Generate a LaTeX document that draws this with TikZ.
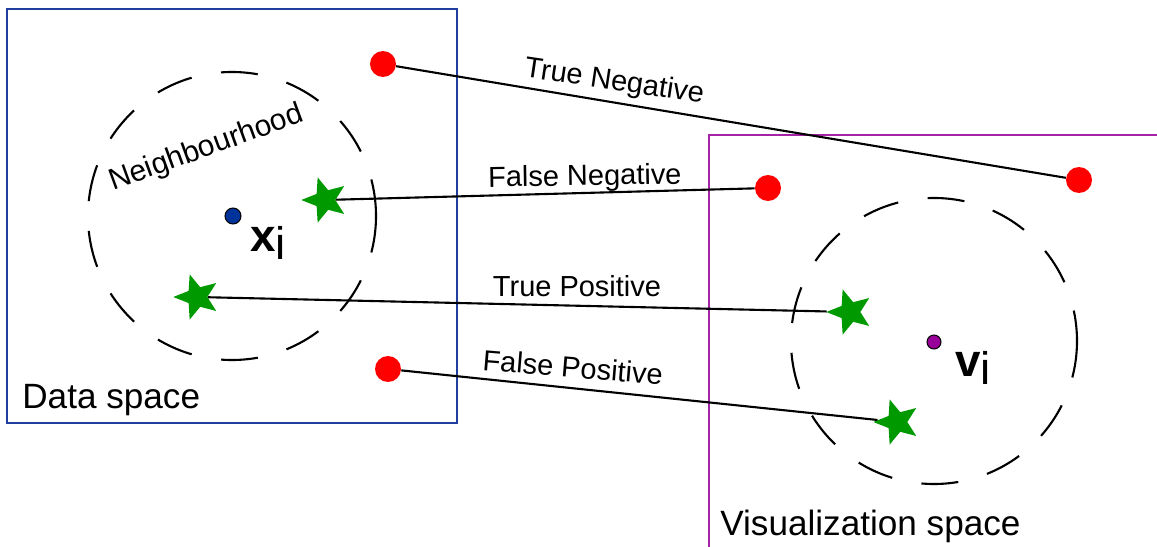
\documentclass[tikz,border=0pt]{standalone}
\usepackage{fontspec}
\setmainfont{Liberation Sans}
\usetikzlibrary{shapes.geometric}
\definecolor{dataBlue}{RGB}{32,64,160}
\definecolor{visPurple}{RGB}{165,35,165}
\definecolor{ptRed}{RGB}{255,0,0}
\definecolor{ptGreen}{RGB}{0,153,0}
\definecolor{xiBlue}{RGB}{0,51,153}
\definecolor{viPurple}{RGB}{153,0,153}

\begin{document}
\begin{tikzpicture}[x=0.02cm, y=-0.02cm,
  redpt/.style={circle, fill=ptRed, inner sep=0pt, minimum size=0.52cm},
  greenstar/.style={star, star points=5, star point ratio=2.3, fill=ptGreen,
    inner sep=0pt, minimum size=0.95cm, rotate=90},
  centre/.style={circle, draw=black, line width=0.6pt, inner sep=0pt, minimum size=0.32cm},
  hood/.style={dash pattern=on 21pt off 17pt, line width=1.2pt},
  link/.style={line width=1.2pt},
  lbl/.style={font=\fontsize{16.5}{18}\selectfont, anchor=base},
  space/.style={font=\fontsize{20}{22}\selectfont, anchor=base west, inner sep=0pt},
  pname/.style={font=\fontsize{26}{28}\selectfont, anchor=base west, inner sep=0pt}]
  \useasboundingbox (0,0) rectangle (1157,547);
  % Two spaces
  \draw[dataBlue, line width=1.1pt] (7,9) rectangle (457,423);
  \draw[visPurple, line width=1.1pt] (1157,135) -- (709,135) -- (709,547);
  \node[space] at (22,409) {Data space};
  \node[space] at (720,535) {Visualization space};
  % Centres and neighbourhoods
  \node[centre, fill=xiBlue] (xi) at (233,216) {};
  \node[centre, fill=viPurple, minimum size=0.28cm] (vi) at (934,342) {};
  \draw[hood] (232,216) circle[radius=144];
  \draw[hood] (934,341) circle[radius=143];
  \node[pname] at (250,252) {{\bfseries x}\raisebox{-4.5pt}{i}};
  \node[pname] at (955,377) {{\bfseries v}\raisebox{-4.5pt}{i}};
  \node[rotate=20, anchor=base, font=\fontsize{17}{19}\selectfont] at (209,156) {Neighbourhood};
  % Points in data space
  \node[redpt] (tnA) at (383,64) {};
  \node[redpt] (fpA) at (388,369) {};
  \node[greenstar] (fnA) at (325,200) {};
  \node[greenstar] (tpA) at (197,297) {};
  % Points in visualization space
  \node[redpt] (tnB) at (1079,180) {};
  \node[redpt] (fnB) at (768,188) {};
  \node[greenstar] (tpB) at (850,312) {};
  \node[greenstar] (fpB) at (897,422) {};
  % Links between the two spaces
  \draw[link] (tnA) -- (tnB);
  \draw[link] (fnA) -- (fnB);
  \draw[link] (tpA) -- (tpB);
  \draw[link] (fpA) -- (fpB);
  \node[lbl, rotate=-8.5] at (613,90) {True Negative};
  \node[lbl, rotate=1] at (585,185.5) {False Negative};
  \node[lbl] at (577,297) {True Positive};
  \node[lbl, rotate=-4.7] at (572,377.5) {False Positive};
\end{tikzpicture}
\end{document}
